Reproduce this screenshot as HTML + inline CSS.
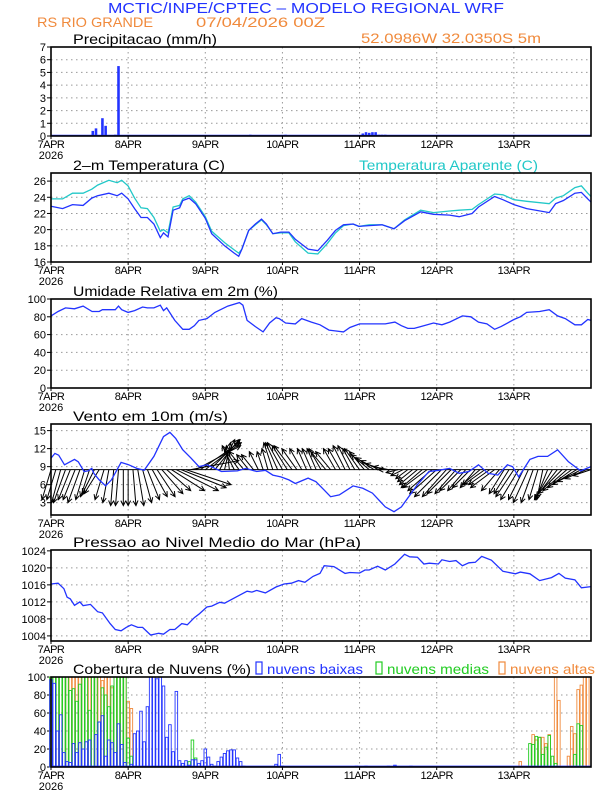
<!DOCTYPE html>
<html><head><meta charset="utf-8"><style>
html,body{margin:0;padding:0;background:#fff;}
svg{display:block;font-family:"Liberation Sans",sans-serif;}
</style></head><body>
<svg id="c" width="612" height="792" viewBox="0 0 612 792" xmlns="http://www.w3.org/2000/svg">
<text x="108" y="13" textLength="396" lengthAdjust="spacingAndGlyphs" font-size="15" fill="#2233ff">MCTIC/INPE/CPTEC – MODELO REGIONAL WRF</text>
<text x="37" y="27" textLength="116" lengthAdjust="spacingAndGlyphs" font-size="14" fill="#f08a3c">RS RIO GRANDE</text>
<text x="196" y="27" textLength="129" lengthAdjust="spacingAndGlyphs" font-size="14" fill="#f08a3c">07/04/2026 00Z</text>
<text x="361" y="43" textLength="180" lengthAdjust="spacingAndGlyphs" font-size="14" fill="#f08a3c">52.0986W 32.0350S 5m</text>
<g id="g"></g>
</svg>
<script>
// ---------- data ----------
const dayLabels = ["7APR","8APR","9APR","10APR","11APR","12APR","13APR"];
const precipHours = [3,9,13,14,16,17,20,21,22,30,38,60,62,73,82,97,98,99,100,101,102,103,104,134];
const precipVals  = [0.03,0.03,0.4,0.6,1.4,0.8,0.1,5.5,0.05,0.03,0.08,0.05,0.1,0.1,0.03,0.2,0.3,0.25,0.3,0.3,0.1,0.1,0.1,0.05];
const tempHours = [0,3.6,6.7,10,12.7,14.5,18,20.6,22,24,26,28,30,32,34,35,36.4,38,40,41,43,45,48,50,54,57,58.4,59.4,61.5,63.6,65.5,67,69,71.5,74,76,80,83,86,88.5,91,94,95.8,99,103,106.7,110,115,119,124,127,131,133,138,140.6,144,148,155,157,159.4,163,165,167,168];
const tempVals = [22.9,22.6,23.1,23.0,23.9,24.2,24.5,24.2,24.5,23.8,22.6,21.5,21.5,20.7,19.0,19.6,19.1,22.4,22.7,23.6,23.9,23.2,21.4,19.5,18.0,17.1,16.7,17.6,19.9,20.7,21.3,20.7,19.5,19.7,19.7,18.8,17.6,17.4,18.7,19.9,20.6,20.7,20.4,20.5,20.6,20.1,21.1,22.2,21.9,21.8,21.6,22.0,22.8,24.1,23.7,23.1,22.6,22.1,23.2,23.6,24.5,24.6,23.8,23.4];
const appTempVals = [23.8,23.8,24.5,24.5,25.0,25.5,26.1,25.8,26.1,25.4,23.9,22.7,22.6,21.5,19.8,20.0,19.6,22.8,23.0,23.8,24.2,23.4,21.6,19.8,18.4,17.5,17.1,17.6,19.9,20.6,21.2,20.6,19.5,19.6,19.6,18.5,17.1,17.0,18.3,19.6,20.5,20.7,20.4,20.6,20.6,20.1,21.2,22.4,22.1,22.3,22.4,22.5,23.1,24.4,24.3,23.7,23.5,23.2,23.9,24.2,25.2,25.4,24.5,24.1];
const rhHours = [0,2.2,4.5,7.3,10,12.8,15,16,19,20,21,22,24,26,28.5,30,32,34,35,36,38.5,41,43,44.6,46,48.5,51,55,58.6,59.7,61,63.6,66,68,70,71,73,76,78,81,83.7,86.5,88.7,91,93,96,101,104,107,109,111,113,115,119,121.6,124,128,130.6,133,135.6,138,140,144,146,148,152,155,157.6,160,163,165,167,168];
const rhVals = [81,86,90,89,92,86,86,88,88,88,92,88,85,87,91,90,90,93,87,90,76,66,66,70,76,78,85,92,96,93,76,69,63,73,79,78,73,72,78,74,71,65,64,63,68,72,72,72,74,70,67,67,69,73,71,74,81,80,74,72,66,69,77,80,85,86,88,81,78,71,71,77,76];
const windHours = [0,1.2,2.4,4.2,7.3,8.5,10.3,11.5,12.7,13.3,15,17,18.8,21.8,24.2,26.7,29,32,35,37,38.8,41,43.6,46,48.5,51,53,58,60.6,64,66.7,69,71.5,74,76,80,82.4,85,87,89.7,94,97,100,104,106.7,109,114,117.6,120.6,124,127,130,133,136,139,142,143.6,145.5,149,151.5,154.5,157.6,161,164.8,168];
const windSpeed = [10.4,11.2,10.9,9.3,10.2,9.8,8.2,8.3,8.7,7.9,6.8,5.8,6.8,9.7,9.3,8.7,8.4,10.7,14.0,14.7,13.7,11.8,10.4,9.0,9.3,8.7,8.2,8.3,8.7,8.2,8.4,7.6,7.3,6.8,6.2,7.1,6.5,5.1,4.0,4.3,5.8,5.4,4.6,2.3,1.5,2.3,6.0,8.2,8.4,8.7,7.9,8.2,9.3,7.9,7.6,9.3,9.0,7.3,10.2,10.7,10.7,11.8,9.8,8.3,9.0];
const vecHours = [0,1.5,3,4.5,6,7.5,9,10.5,12,13.5,15,16.5,18,19.5,21,22.5,24,25.5,27,28.5,30,31.5,33,34.5,36,37.5,39,40.5,42,43.5,45,46.5,48,49.5,51,52.5,54,55.5,57,58.5,60,61.5,63,64.5,66,67.5,69,70.5,72,73.5,75,76.5,78,79.5,81,82.5,84,85.5,87,88.5,90,91.5,93,94.5,96,97.5,99,100.5,102,103.5,105,106.5,108,109.5,111,112.5,114,115.5,117,118.5,120,121.5,123,124.5,126,127.5,129,130.5,132,133.5,135,136.5,138,139.5,141,142.5,144,145.5,147,148.5,150,151.5,153,154.5,156,157.5,159,160.5,162,163.5,165,166.5,168];
const windU = [-3,-3,-3,-4,-4,-4,-4,-3,-3,-4,-5,-3,-2,-1,-1,0,0,1,2,3,4,5,6,7,8,11,14,15,15,16,15,13,12,10,8,5,2,-1,-4,-5,-5,-4,-4,-3,-2,-2,-3,-4,-5,-5,-6,-5,-4,-3,-3,-3,-4,-5,-5,-4,-4,-4,-4,-4,-5,-5,-6,-6,-6,-6,-5,-5,-4,-4,-4,-5,-6,-7,-8,-8,-9,-9,-8,-8,-7,-7,-6,-6,-5,-6,-7,-7,-8,-6,-5,-5,-6,-6,-5,-5,-4,-3,-2,-4,-6,-7,-8,-8,-8,-8,-8,-7,-6];
const windV = [-10,-10,-11,-11,-10,-10,-11,-10,-9,-8,-8,-10,-11,-12,-12,-12,-12,-12,-12,-11,-10,-9,-9,-8,-7,-7,-7,-6,-5,3,8,9,9,10,10,10,9,8,8,7,6,5,5,6,6,7,9,9,9,8,8,7,7,7,7,7,7,6,6,7,7,8,8,7,7,6,5,4,3,2,1,0,-1,-2,-3,-4,-5,-6,-6,-7,-8,-9,-9,-8,-8,-7,-7,-6,-6,-5,-5,-5,-6,-7,-8,-8,-9,-10,-10,-11,-11,-10,-10,-10,-10,-9,-8,-7,-6,-5,-4,-3,-2];
const presHours = [0,2.2,4,5,6,7.3,9,10,12.3,14.5,16,18.4,20,21.8,23.4,25,27,28.5,31,33.5,35,37,38.5,40.7,42.4,44.6,46,48.5,50,52.5,54,57.5,61,62.5,64,66.7,70,72.5,74.8,77,79,81.5,83.7,85,88,91.5,93,96,97.7,99,101.6,104,107,110,111.6,114,116,117.7,120.5,121.6,124,126,128,130,132,134,137,140.6,144.5,146,149,152,155.7,158,160,163,165,168];
const presVals = [1016.2,1016.4,1015.1,1013.1,1012.7,1011.2,1012.0,1011.1,1011.4,1009.7,1009.4,1006.9,1005.5,1005.2,1006.0,1006.6,1006.0,1006.0,1004.2,1004.6,1004.4,1005.5,1005.5,1006.9,1006.6,1008.3,1009.1,1010.8,1011.0,1011.9,1011.7,1013.1,1014.5,1014.3,1014.7,1014.1,1015.5,1016.2,1016.4,1017.0,1016.6,1018.0,1018.7,1020.5,1020.3,1018.7,1018.9,1018.8,1019.5,1019.5,1020.4,1019.5,1020.9,1023.2,1022.6,1022.5,1020.9,1021.1,1020.9,1021.9,1021.5,1021.7,1020.5,1021.2,1021.3,1022.7,1021.8,1019.2,1018.6,1019.0,1018.6,1017.0,1017.7,1018.7,1017.6,1017.2,1015.3,1015.6];
const lowHours = [0,1,2,3,4,5,6,7,8,9,10,11,12,14,15,16,17,18,19,20,21,22,23,25,26,27,28,29,30,31,32,33,34,35,36,37,38,39,40,41,42,43,44,45,46,47,48,49,50,51,52,53,54,55,56,57,58,59,60,70,71,72,95,98,105,107,112];
const lowVals  = [97,93,40,58,16,6,5,26,16,27,20,28,30,36,50,57,12,30,27,16,48,25,5,3,37,40,62,28,67,100,100,98,100,90,33,47,17,84,7,4,7,2,8,8,4,7,20,11,3,1,6,11,15,18,19,19,10,6,1,3,14,1,1,1,1,2,1];
const medHours = [0,1,2,3,4,5,6,7,8,9,10,11,12,13,14,15,16,17,18,19,20,21,22,23,24,25,43,44,45,149,150,151,152,153,154,155,156,157,163,164,165];
const medVals  = [100,100,100,100,100,100,85,87,73,92,100,100,63,100,100,50,88,80,67,90,100,100,100,100,32,12,6,30,10,26,25,34,33,14,22,35,12,4,14,48,46];
const highHours = [0,1,2,3,4,5,6,7,8,9,10,11,12,13,14,15,16,17,18,19,20,21,22,23,24,25,146,150,151,152,153,154,155,157,158,161,162,163,164,165,166,167];
const highVals  = [100,100,100,100,100,100,100,100,100,100,100,100,100,100,100,100,96,100,100,88,100,100,100,100,73,65,6,36,30,33,33,26,36,100,74,12,45,37,86,91,100,100];

// ---------- layout ----------
const NS="http://www.w3.org/2000/svg";
const G=document.getElementById('g');
const X0=51, X1=591, HMAX=168;
function xH(h){return X0+h*(X1-X0)/HMAX;}
function mk(tag,attrs,parent){const e=document.createElementNS(NS,tag);for(const k in attrs)e.setAttribute(k,attrs[k]);(parent||G).appendChild(e);return e;}
function yScale(p){return v=>p.bot-(v-p.min)/(p.max-p.min)*(p.bot-p.top);}
const panels=[
 {name:'precip',top:47,bot:136,min:0,max:7,ticks:[0,1,2,3,4,5,6,7],title:'Precipitacao (mm/h)',tl:144},
 {name:'temperature',top:173,bot:262,min:16,max:27,ticks:[16,18,20,22,24,26],title:'2–m Temperatura (C)',tl:152},
 {name:'humidity',top:299,bot:388,min:0,max:100,ticks:[0,20,40,60,80,100],title:'Umidade Relativa em 2m (%)',tl:205},
 {name:'wind',top:424,bot:515,min:0.95,max:16.1,ticks:[3,6,9,12,15],title:'Vento em 10m (m/s)',tl:155},
 {name:'pressure',top:550,bot:641,min:1002.8,max:1024.2,ticks:[1004,1008,1012,1016,1020,1024],title:'Pressao ao Nivel Medio do Mar (hPa)',tl:288},
 {name:'clouds',top:677,bot:767,min:0,max:100,ticks:[0,20,40,60,80,100],title:'Cobertura de Nuvens (%)',tl:178}
];
panels.forEach(p=>{
  p.y=yScale(p);
  const g=mk('g',{});
  
  
  p.g=g;
  for(let d=1;d<7;d++){const l=mk('line',{x1:xH(d*24),x2:xH(d*24),y1:p.top,y2:p.bot,stroke:'#999','stroke-width':1,'stroke-dasharray':'1.5,3.5'},g);
    }
  p.ticks.forEach(t=>{
    const y=p.y(t);
    if(y>p.top+1&&y<p.bot-1){const l=mk('line',{x1:X0,x2:X1,y1:y,y2:y,stroke:'#999','stroke-width':1,'stroke-dasharray':'1.5,3.5'},g);
      }
    mk('line',{x1:X0-4,x2:X0,y1:y,y2:y,stroke:'#000'},g);
    const tx=mk('text',{x:X0-5,y:y+4,'text-anchor':'end','font-size':11,fill:'#000'},g);
    tx.textContent=t;
    
  });
  const tt=mk('text',{x:73,y:p.top-3,'font-size':14,fill:'#000',textLength:p.tl,lengthAdjust:'spacingAndGlyphs'},g);
  tt.textContent=p.title;
  
  dayLabels.forEach((s,i)=>{
    const tx=mk('text',{x:xH(i*24),y:p.bot+12,'text-anchor':'middle','font-size':11,fill:'#000','letter-spacing':'-0.5'},g);
    tx.textContent=s;
    
    mk('line',{x1:xH(i*24),x2:xH(i*24),y1:p.bot,y2:p.bot+3,stroke:'#000'},g);
  });
  const yr=mk('text',{x:xH(0),y:p.bot+23,'text-anchor':'middle','font-size':11,fill:'#000'},g);
  yr.textContent='2026';
  
});
function frame(p){const r=mk('rect',{x:X0,y:p.top,width:X1-X0,height:p.bot-p.top,fill:'none',stroke:'#000','stroke-width':1.6},p.g);
  }
function line(p,hs,vs,color,name){
  const d=hs.map((h,i)=>(i?'L':'M')+xH(h).toFixed(1)+','+p.y(vs[i]).toFixed(1)).join('');
  const e=mk('path',{d:d,fill:'none',stroke:color,'stroke-width':1.3},p.g);
  
}
const hw=(X1-X0)/HMAX;
// precip
{const p=panels[0];
 mk('line',{x1:X0,x2:X1,y1:p.bot-0.8,y2:p.bot-0.8,stroke:'#2233ff','stroke-width':1},p.g);
 precipHours.forEach((h,i)=>{const y=p.y(precipVals[i]);
  const r=mk('rect',{x:xH(h)-hw*0.4,y:y,width:hw*0.8,height:p.bot-y,fill:'#2233ff'},p.g);
  });
 frame(p);}
// temperature
{const p=panels[1];
 line(p,tempHours,appTempVals,'#22c8c8','apparent-temp-line');
 line(p,tempHours,tempVals,'#2233ff','temp-line');
 const l=mk('text',{x:359,y:p.top-3,'font-size':14,fill:'#22c8c8',textLength:179,lengthAdjust:'spacingAndGlyphs'},p.g);l.textContent='Temperatura Aparente (C)';
 
 frame(p);}
// humidity
{const p=panels[2]; line(p,rhHours,rhVals,'#2233ff','humidity-line'); frame(p);}
// wind
{const p=panels[3]; const by=p.y(8.5); const s=3;
 vecHours.forEach((h,i)=>{
  const x0=xH(h), dx=windU[i]*s, dy=-windV[i]*s, x1=x0+dx, y1=by+dy;
  const L=Math.hypot(dx,dy)||1, ux=dx/L, uy=dy/L;
  const a=mk('path',{d:`M${x0},${by}L${x1},${y1}M${x1-5*ux-2.5*uy},${y1-5*uy+2.5*ux}L${x1},${y1}L${x1-5*ux+2.5*uy},${y1-5*uy-2.5*ux}`,stroke:'#000','stroke-width':1,fill:'none'},p.g);
  
 });
 mk('line',{x1:X0,x2:X1,y1:by,y2:by,stroke:'#000','stroke-width':1},p.g);
 line(p,windHours,windSpeed,'#2233ff','wind-speed-line'); frame(p);}
// pressure
{const p=panels[4]; line(p,presHours,presVals,'#2233ff','pressure-line'); frame(p);}
// clouds
{const p=panels[5];
 const series=[[highHours,highVals,'#f08a3c','cloud-high-bar'],[medHours,medVals,'#22cc22','cloud-medium-bar'],[lowHours,lowVals,'#2233ff','cloud-low-bar']];
 series.forEach(([hs,vs,c,n])=>{hs.forEach((h,i)=>{const y=p.y(vs[i]);
   const r=mk('rect',{x:xH(h)-hw*0.4,y:y,width:hw*0.8,height:p.bot-y,fill:'none',stroke:c,'stroke-width':0.9},p.g);
   });});
 mk('line',{x1:X0,x2:X1,y1:p.bot-0.8,y2:p.bot-0.8,stroke:'#2233ff','stroke-width':1.2},p.g);
 const leg=[[256,'#2233ff','nuvens baixas','legend-low',96],[376,'#22cc22','nuvens medias','legend-medium',102],[499,'#f08a3c','nuvens altas','legend-high',85]];
 leg.forEach(([x,c,t,n,w])=>{
  const b=mk('rect',{x:x,y:p.top-15,width:6,height:12,fill:'none',stroke:c,'stroke-width':1.2},p.g);
  
  const tx=mk('text',{x:x+11,y:p.top-3,'font-size':14,fill:c,textLength:w,lengthAdjust:'spacingAndGlyphs'},p.g);tx.textContent=t;
  });
 frame(p);}
</script>
</body></html>
